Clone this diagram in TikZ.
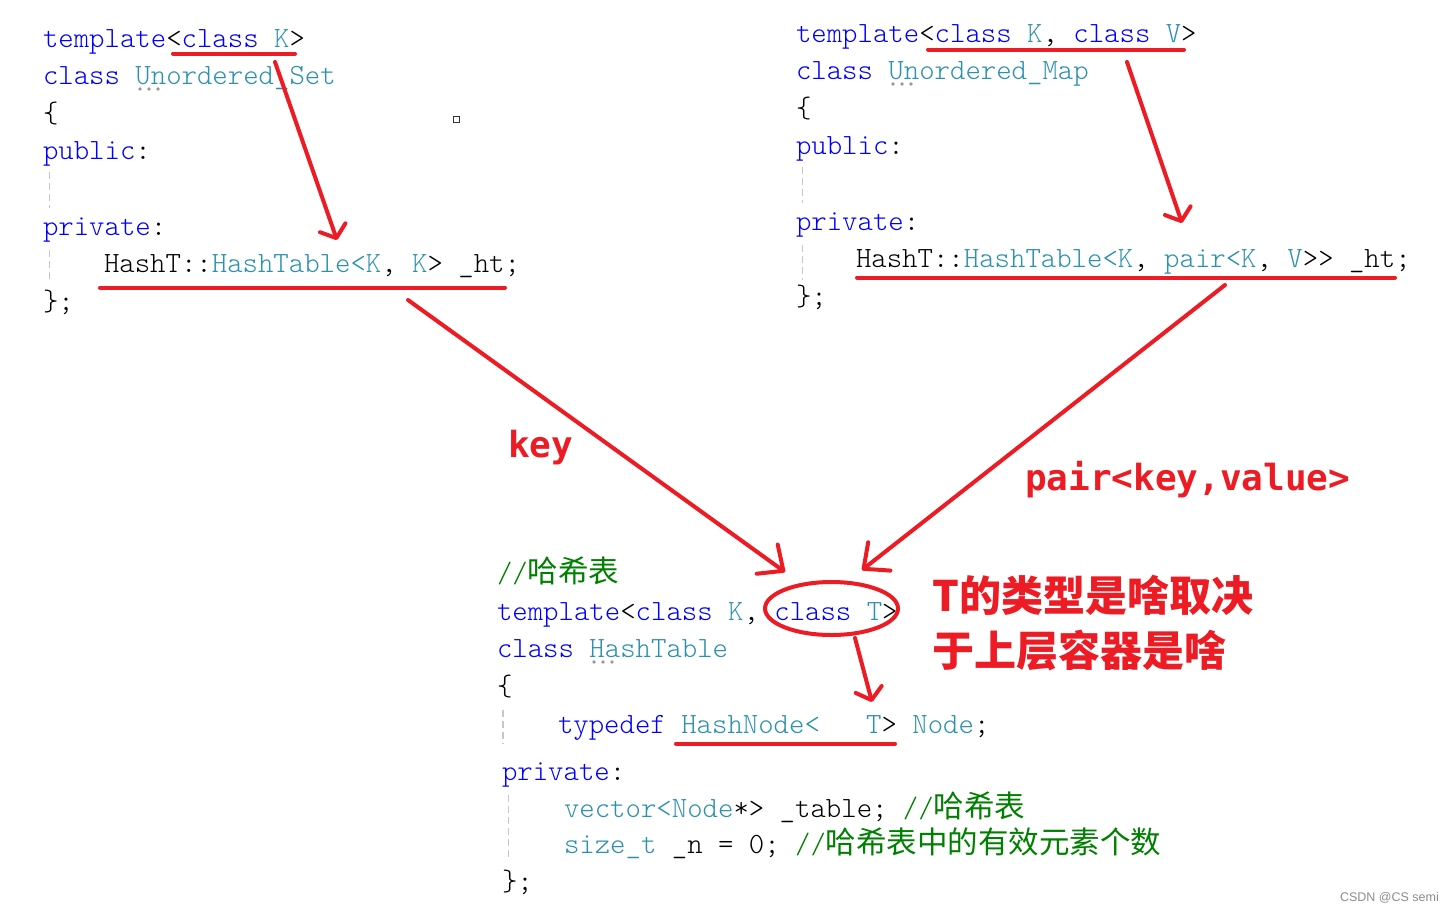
\documentclass[tikz,border=0pt]{standalone}
\usepackage{fontspec}
\newfontfamily\cjk{Noto Sans CJK SC}
\newfontfamily\lblfont{DejaVu Sans Mono}
\newfontfamily\wmfont{Liberation Sans}
\newfontfamily\codefont{Latin Modern Mono Light}
\usetikzlibrary{arrows.meta,shapes.geometric}
\definecolor{kw}{RGB}{0,0,255}
\definecolor{ty}{RGB}{43,145,175}
\definecolor{cmt}{RGB}{0,128,0}
\definecolor{ann}{RGB}{237,28,36}
\newcommand\kw[1]{\textcolor{kw}{#1}}
\newcommand\ty[1]{\textcolor{ty}{#1}}
\newcommand\zh[1]{{\cjk\fontsize{30.5}{36}\selectfont #1}}
\newcommand\cmt[1]{\textcolor{cmt}{#1}}
\tikzset{
  code/.style={anchor=base west, inner sep=0pt, outer sep=0pt,
    font=\codefont\fontsize{29.35}{35}\selectfont, text=black},
  uline/.style={draw=ann, line width=4pt, line cap=round},
  bigarrow/.style={draw=ann, line width=4pt, line cap=round,
    -{Straight Barb[length=20pt,width=36pt,round]}},
  smallarrow/.style={draw=ann, line width=4pt, line cap=round,
    -{Straight Barb[length=11pt,width=27pt,round]}},
  guide/.style={draw=black!22, line width=1.6pt, dash pattern=on 7pt off 4pt},
  note/.style={text=ann, font=\cjk\bfseries\fontsize{42}{55}\selectfont,
    anchor=base west, inner sep=0pt},
  lbl/.style={text=ann, font=\lblfont\bfseries\fontsize{36}{40}\selectfont,
    anchor=base west, inner sep=0pt},
}
\begin{document}
\begin{tikzpicture}[x=1pt,y=-1pt]
\useasboundingbox (0,0) rectangle (1454,911);
\fill[white] (0,0) rectangle (1454,911);

% ---------- top-left: Unordered_Set ----------
\node[code] (tl1) at (43,47) {\kw{template}<\kw{class}~\ty{K}>};
\node[code] (tl2) at (43,84.6) {\kw{class}~\ty{Unordered\_Set}};
\node[code] (tl3) at (43,122.2) {\{};
\node[code] (tl4) at (43,159.8) {\kw{public}:};
\node[code] (tl6) at (43,235) {\kw{private}:};
\node[code] (tl7) at (104,272.6) {HashT::\ty{HashTable<K},~\ty{K}>~\_ht;};
\node[code] (tl8) at (43,310) {\};};
\draw[guide] (49.5,172) -- (49.5,208);
\draw[guide] (49.5,250) -- (49.5,282);
\foreach \i in {140,149,158} \fill[black!40] (\i,89) circle (1.8);
\draw[black!80, line width=1.2pt] (453.5,116.5) rectangle (459.5,122.5);

% ---------- top-right: Unordered_Map ----------
\node[code] (tr1) at (796,42) {\kw{template}<\kw{class}~\ty{K},~\kw{class}~\ty{V}>};
\node[code] (tr2) at (796,79.6) {\kw{class}~\ty{Unordered\_Map}};
\node[code] (tr3) at (796,117.2) {\{};
\node[code] (tr4) at (796,154.8) {\kw{public}:};
\node[code] (tr6) at (796,230) {\kw{private}:};
\node[code] (tr7) at (856,267.6) {HashT::\ty{HashTable<K},~\ty{pair<K},~\ty{V}>>~\_ht;};
\node[code] (tr8) at (796,305) {\};};
\draw[guide] (802.5,167) -- (802.5,203);
\draw[guide] (802.5,245) -- (802.5,280);
\foreach \i in {893,902,911} \fill[black!40] (\i,84) circle (1.8);

% ---------- bottom: HashTable ----------
\node[code] (b1) at (497,582) {\cmt{//\zh{哈希表}}};
\node[code] (b2) at (497,620) {\kw{template}<\kw{class}~\ty{K},~\kw{class}~\ty{T}>};
\node[code] (b3) at (497,657) {\kw{class}~\ty{HashTable}};
\node[code] (b4) at (497,695) {\{};
\node[code] (b5) at (558,733) {\kw{typedef}~\ty{HashNode<}~~~\ty{T}>~\ty{Node};};
\node[code] (b6) at (502,780) {\kw{private}:};
\node[code] (b7) at (564,817) {\ty{vector<Node}*>~\_table;~\cmt{//\zh{哈希表}}};
\node[code] (b8) at (564,853) {\ty{size\_t}~\_n~=~0;~\cmt{//\zh{哈希表中的有效元素个数}}};
\node[code] (b9) at (502,890) {\};};
\draw[guide] (503,710) -- (503,744);
\draw[guide] (508.5,795) -- (508.5,858);
\foreach \i in {594,603,612} \fill[black!40] (\i,662) circle (1.8);

% ---------- red annotations ----------
\coordinate (u1a) at (173,53.5);  \coordinate (u1b) at (295,53.5);
\coordinate (u2a) at (100,287.5); \coordinate (u2b) at (505,287.5);
\coordinate (u3a) at (928,49.5);  \coordinate (u3b) at (1184,49.5);
\coordinate (u4a) at (857,277.5); \coordinate (u4b) at (1395,277.5);
\coordinate (u5a) at (676,743.5); \coordinate (u5b) at (895,743.5);
\draw[uline] (u1a) -- (u1b);
\draw[uline] (u2a) -- (u2b);
\draw[uline] (u3a) -- (u3b);
\draw[uline] (u4a) -- (u4b);
\draw[uline] (u5a) -- (u5b);

\node[ellipse, draw=ann, line width=4pt, minimum width=133pt, minimum height=53pt,
      inner sep=0pt] (ell) at (831.5,608.5) {};

\coordinate (a1s) at (275,62);   \coordinate (a1e) at (337,240);
\coordinate (a2s) at (1127,62);  \coordinate (a2e) at (1182,223);
\coordinate (a3s) at (408,300);  \coordinate (a3e) at (785,572);
\coordinate (a4s) at (1225,285); \coordinate (a4e) at (862,570);
\coordinate (a5s) at (855,638);  \coordinate (a5e) at (872,702);
\draw[smallarrow] (a1s) -- (a1e);
\draw[smallarrow] (a2s) -- (a2e);
\draw[bigarrow] (a3s) -- (a3e);
\draw[bigarrow] (a4s) -- (a4e);
\draw[smallarrow] (a5s) -- (a5e);

\node[lbl] (lkey) at (508,457) {key};
\node[lbl] (lpair) at (1025,490) {pair<key,value>};
\node[note] (n1) at (932,611) {T的类型是啥取决};
\node[note] (n2) at (932,666) {于上层容器是啥};

\node[font=\wmfont\fontsize{12.5}{14}\selectfont, text=black!45, anchor=base east,
      inner sep=0pt] (wm) at (1439,901) {CSDN @CS semi};
\end{tikzpicture}
\end{document}
